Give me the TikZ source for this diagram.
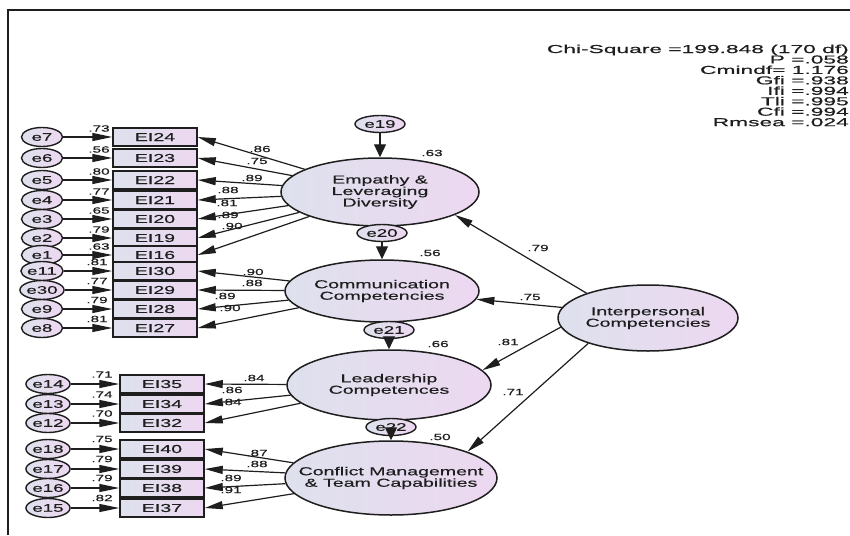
\documentclass[tikz,border=0pt]{standalone}
\usepackage{fontspec}
\setmainfont[FakeStretch=1.7,FakeBold=0.5]{Liberation Sans}
\newfontfamily\fitfont[FakeStretch=1.98,FakeBold=0.5]{Liberation Sans}
\usetikzlibrary{arrows.meta,shapes.geometric}
\definecolor{shadeL}{HTML}{DEE1ED}
\definecolor{shadeR}{HTML}{EDD8F1}
\definecolor{ink}{HTML}{1E1E1E}
\begin{document}
\begin{tikzpicture}[x=1pt,y=-1pt,
  every node/.style={text=ink},
  obs/.style={draw=ink, line width=1.5pt, rectangle, minimum width=84pt,
    minimum height=18pt, inner sep=0pt, left color=shadeL, right color=shadeR,
    font=\fontsize{11.5}{12}\selectfont},
  err/.style={draw=ink, line width=1.4pt, ellipse, minimum width=41pt,
    minimum height=19pt, inner sep=0pt, left color=shadeL, right color=shadeR,
    font=\fontsize{11}{12}\selectfont},
  derr/.style={err, minimum width=50pt, minimum height=17pt},
  lat/.style={draw=ink, line width=1.5pt, ellipse, inner sep=0pt,
    left color=shadeL, right color=shadeR},
  lattext/.style={align=center, inner sep=0pt, font=\fontsize{11.5}{11.5}\selectfont},
  harr/.style={draw=ink, line width=1.2pt, -{Triangle[length=20pt,width=8pt]}},
  varr/.style={draw=ink, line width=1.2pt, -{Triangle[length=13pt,width=12pt]}},
  darr/.style={draw=ink, line width=1.2pt, -{Triangle[length=18pt,width=8pt]}},
  lab/.style={font=\fontsize{9}{9}\selectfont, inner sep=0pt},
  fitline/.style={font=\fitfont\fontsize{11.5}{11.5}\selectfont, inner sep=0pt, anchor=base east},
]
\useasboundingbox (0,0) rectangle (850,535);
\fill[white] (0,0) rectangle (850,535);

% frame
\draw[line width=1.8pt, ink] (8,535) -- (8,10) -- (852,10);

% latent variables
\node[lat, minimum width=198pt, minimum height=68pt] (emp) at (380,192) {};
\node[lattext] (empT) at (emp) {Empathy \&\\Leveraging\\Diversity};
\node[lat, minimum width=194pt, minimum height=62pt] (com) at (382,291) {};
\node[lattext] (comT) at (com) {Communication\\Competencies};
\node[lat, minimum width=204pt, minimum height=70pt] (lead) at (389,385) {};
\node[lattext] (leadT) at (lead) {Leadership\\Competences};
\node[lat, minimum width=212pt, minimum height=74pt] (conf) at (391,478) {};
\node[lattext] (confT) at (conf) {Conflict Management\\\& Team Capabilities};
\node[lat, minimum width=180pt, minimum height=66pt] (inter) at (648,318) {};
\node[lattext] (interT) at (inter) {Interpersonal\\Competencies};

% Empathy & Leveraging Diversity indicators
\foreach \y/\e/\b/\r in {137/e7/EI24/.73, 158/e6/EI23/.56, 180/e5/EI22/.80,
    200/e4/EI21/.77, 219/e3/EI20/.65, 238/e2/EI19/.79, 255/e1/EI16/.63}{
  \node[obs] (\b) at (155,\y) {\b};
  \node[err] (\e) at (42,\y) {\e};
  \draw[harr] (\e) -- (\b);
  \node[lab] (r\b) at (99,\y-8.5) {\r};
}
\foreach \b/\r/\lx/\ly in {EI24/.86/260/149, EI23/.75/257/161, EI22/.89/252/178,
    EI21/.88/228/190, EI20/.81/227/203, EI19/.89/228/215, EI16/.90/232/226}{
  \draw[darr] (emp) -- (\b.east);
  \node[lab] (w\b) at (\lx,\ly) {\r};
}

% Communication Competencies indicators
\foreach \y/\e/\b/\r in {271/e11/EI30/.81, 290/e30/EI29/.77, 309/e9/EI28/.79,
    328/e8/EI27/.81}{
  \node[obs] (\b) at (155,\y) {\b};
  \node[err] (\e) at (42,\y) {\e};
  \draw[harr] (\e) -- (\b);
  \node[lab] (r\b) at (97,\y-9) {\r};
}
\foreach \b/\r/\lx/\ly in {EI30/.90/253/272, EI29/.88/252/283, EI28/.89/225/296,
    EI27/.90/230/308}{
  \draw[darr] (com) -- (\b.east);
  \node[lab] (w\b) at (\lx,\ly) {\r};
}

% Leadership Competences indicators
\foreach \y/\e/\b/\r in {384/e14/EI35/.71, 404/e13/EI34/.74, 423/e12/EI32/.70}{
  \node[obs] (\b) at (162,\y) {\b};
  \node[err] (\e) at (48,\y) {\e};
  \draw[harr] (\e) -- (\b);
  \node[lab] (r\b) at (102,\y-9.5) {\r};
}
\foreach \b/\r/\lx/\ly in {EI35/.84/254/378, EI34/.86/232/390, EI32/.84/231/402}{
  \draw[darr] (lead) -- (\b.east);
  \node[lab] (w\b) at (\lx,\ly) {\r};
}

% Conflict Management & Team Capabilities indicators
\foreach \y/\e/\b/\r in {449/e18/EI40/.75, 469/e17/EI39/.79, 488/e16/EI38/.79,
    508/e15/EI37/.82}{
  \node[obs] (\b) at (162,\y) {\b};
  \node[err] (\e) at (48,\y) {\e};
  \draw[harr] (\e) -- (\b);
  \node[lab] (r\b) at (102,\y-10) {\r};
}
\foreach \b/\r/\lx/\ly in {EI40/.87/257/453, EI39/.88/257/464, EI38/.89/231/478,
    EI37/.91/231/490}{
  \draw[darr] (conf) -- (\b.east);
  \node[lab] (w\b) at (\lx,\ly) {\r};
}

% disturbances
\node[derr] (e19) at (380,124) {e19};
\node[derr] (e20) at (382,233) {e20};
\node[derr] (e21) at (389,330) {e21};
\node[derr] (e22) at (391,427) {e22};
\draw[varr] (e19) -- (emp);
\draw[varr] (e20) -- (com);
\draw[varr] (e21) -- (lead);
\draw[varr] (e22) -- (conf);
\node[lab] (sq1) at (432,153) {.63};
\node[lab] (sq2) at (430,253) {.56};
\node[lab] (sq3) at (438,344) {.66};
\node[lab] (sq4) at (440,437) {.50};

% structural paths
\draw[darr] (inter.158) -- (emp.343);
\draw[darr] (inter.173) -- (com.355);
\draw[darr] (inter.186) -- (lead.9);
\draw[darr] (inter.203) -- (conf.19);
\node[lab] (b1) at (538,248) {.79};
\node[lab] (b2) at (530,297) {.75};
\node[lab] (b3) at (508,342) {.81};
\node[lab] (b4) at (513,392) {.71};

% fit statistics
\foreach \t [count=\i] in {Chi-Square =199.848 (170 df), P =.058, Cmindf= 1.176,
    Gfi =.938, Ifi =.994, Tli =.995, Cfi =.994, Rmsea =.024}{
  \node[fitline] (fit\i) at (849,53+10.45*\i-10.45) {\t};
}
\end{tikzpicture}
\end{document}
